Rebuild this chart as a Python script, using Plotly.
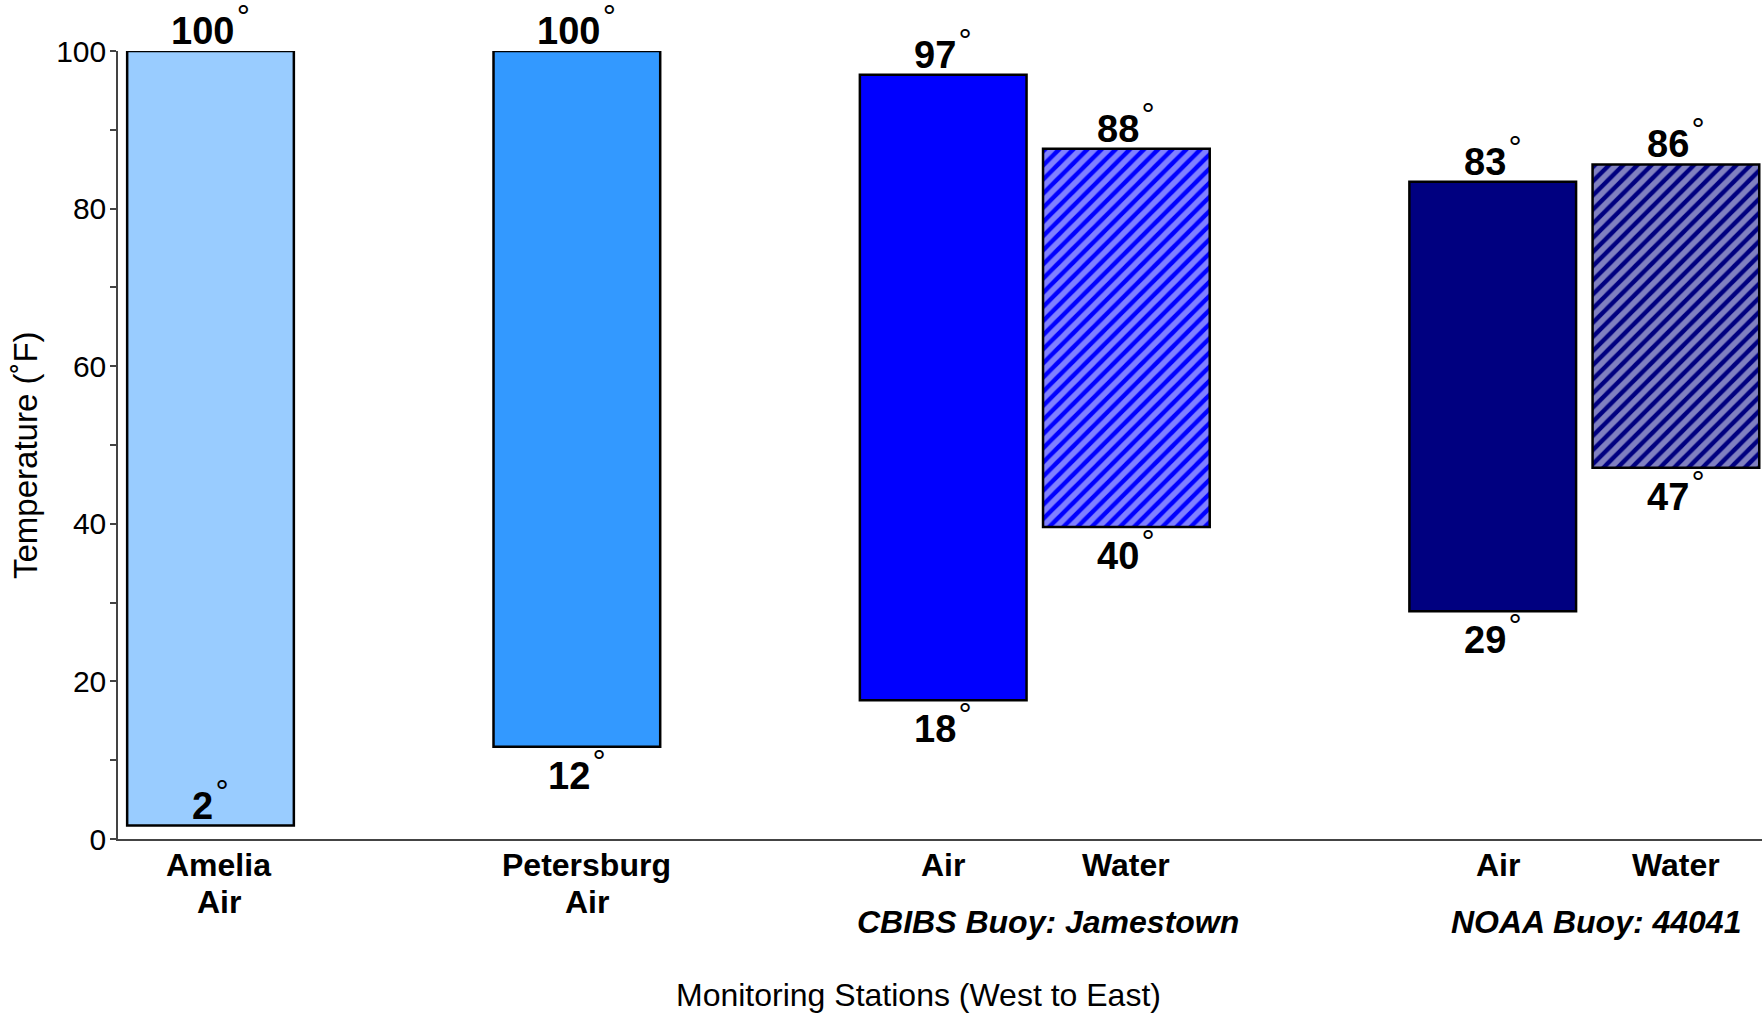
import plotly.graph_objects as go

# ---- data ----
positions = [0, 2, 4, 5, 7, 8]
tick_line1 = ["Amelia", "Petersburg", "Air", "Water", "Air", "Water"]
tick_line2 = ["Air", "Air", "", "", "", ""]
group_labels = ["CBIBS Buoy: Jamestown", "NOAA Buoy: 44041"]
group_centers = [4.5, 7.5]
low = [1.7, 11.7, 17.6, 39.6, 28.9, 47.1]
high = [100, 100, 97, 87.6, 83.4, 85.6]
colors = ["#99CCFF", "#3399FF", "#0000FF", "#0000FF", "#000080", "#000080"]
patterns = ["", "", "", "/", "", "/"]

# small text nudges (px) to match the reference placement
label_xshift = [8, 10, 0, 0, 5, 0]
group_xshift = [13, 12]

FONT = "Liberation Sans, Arial, Helvetica, sans-serif"
DEG = "<sup>\u200a<span style='font-weight:normal;font-size:33px'>°</span></sup>"

W, H = 1762, 1013
L, R, T, B = 118, 0, 51, 174

fig = go.Figure()
fig.add_trace(go.Bar(
    x=positions,
    y=[h - l for h, l in zip(high, low)],
    base=low,
    width=0.91,
    marker=dict(
        color=colors,
        line=dict(color="black", width=2.5),
        pattern=dict(shape=patterns, fgcolor="white", bgcolor=colors,
                     size=10, solidity=0.55),
    ),
    showlegend=False,
    hoverinfo="skip",
))

ann = []
VFONT = dict(size=38, family=FONT, color="black")
for i, (x, l, h) in enumerate(zip(positions, low, high)):
    ann.append(dict(x=x, y=h, xref="x", yref="y", text="<b>%d</b>%s" % (round(h), DEG),
                    showarrow=False, yanchor="bottom", yshift=-3, font=VFONT))
    if i == 0:
        ann.append(dict(x=x, y=l, xref="x", yref="y", text="<b>%d</b>%s" % (round(l), DEG),
                        showarrow=False, yanchor="bottom", yshift=-3, font=VFONT))
    else:
        ann.append(dict(x=x, y=l, xref="x", yref="y", text="<b>%d</b>%s" % (round(l), DEG),
                        showarrow=False, yanchor="top", yshift=6, font=VFONT))

LFONT = dict(size=32, family=FONT, color="black")
for x, t1, t2, xs in zip(positions, tick_line1, tick_line2, label_xshift):
    ann.append(dict(x=x, y=0, xref="x", yref="paper", text="<b>%s</b>" % t1,
                    showarrow=False, yanchor="middle", yshift=-26, xshift=xs, font=LFONT))
    if t2:
        ann.append(dict(x=x, y=0, xref="x", yref="paper", text="<b>%s</b>" % t2,
                        showarrow=False, yanchor="middle", yshift=-63, xshift=xs, font=LFONT))
for x, g, xs in zip(group_centers, group_labels, group_xshift):
    ann.append(dict(x=x, y=0, xref="x", yref="paper", text="<b><i>%s</i></b>" % g,
                    showarrow=False, yanchor="middle", yshift=-83, xshift=xs, font=LFONT))

# axis titles
ann.append(dict(x=0, y=0, xref="paper", yref="paper", xanchor="center", yanchor="middle",
                xshift=(918 - 118), yshift=-(995 - 839),
                text="Monitoring Stations (West to East)", showarrow=False,
                font=dict(size=32, family=FONT, color="black")))
ann.append(dict(x=0, y=0, xref="paper", yref="paper", xanchor="center", yanchor="middle",
                xshift=-(118 - 25), yshift=(839 - 455),
                text="Temperature (˚F)", textangle=-90, showarrow=False,
                font=dict(size=33, family=FONT, color="black")))

fig.update_layout(
    width=W, height=H,
    margin=dict(l=L, r=R, t=T, b=B, pad=0),
    paper_bgcolor="white", plot_bgcolor="white",
    font=dict(family=FONT, size=30, color="black"),
    annotations=ann,
    xaxis=dict(range=[-0.505, 8.47], showticklabels=False, ticks="",
               showgrid=False, zeroline=False, showline=True,
               linecolor="#444444", linewidth=1.5),
    yaxis=dict(range=[0, 100], tickvals=[0, 20, 40, 60, 80, 100],
               ticks="outside", ticklen=6, tickwidth=1.5, tickcolor="#444444",
               ticklabelstandoff=-2,
               showgrid=False, zeroline=False, showline=True,
               linecolor="#444444", linewidth=1.5,
               tickfont=dict(size=30, family=FONT, color="black"),
               minor=dict(tickvals=[10, 30, 50, 70, 90], ticks="outside",
                          ticklen=6, tickwidth=1.5, tickcolor="#444444")),
)

# remove the default 8px page margin so the figure fills the window exactly
fig.write_html("out.html", config={"displayModeBar": False},
               post_script="document.body.style.margin='0px';")
